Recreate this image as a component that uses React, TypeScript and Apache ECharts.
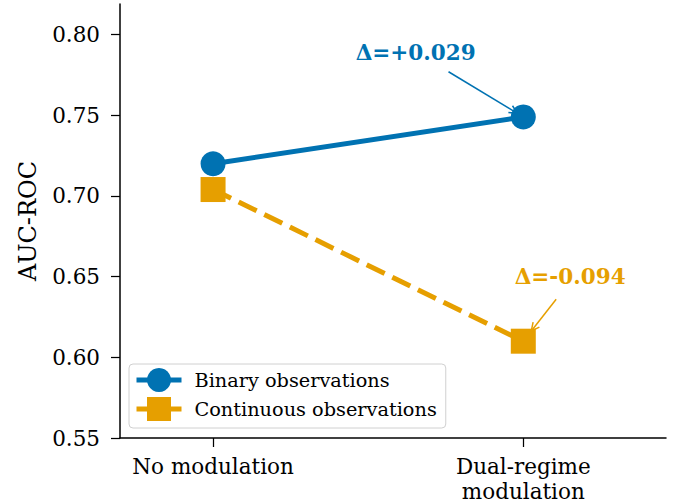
import React, { useEffect, useRef } from "react";
import * as echarts from "echarts";

const categories = ["No modulation", "Dual-regime\nmodulation"];
const categoryX = [0, 1];
const binaryAUC = [0.72, 0.749];
const continuousAUC = [0.704, 0.61];
const yTicks = [0.55, 0.6, 0.65, 0.7, 0.75, 0.8];
const seriesNames = ["Binary observations", "Continuous observations"];
const deltaLabels = ["Δ=+0.029", "Δ=-0.094"];
const deltaTextPos = [
  [0.653, 0.789],
  [1.151, 0.65],
];
const deltaArrowStart = [
  [0.759, 0.777],
  [1.106, 0.636],
];

const BLUE = "#0072B2";
const ORANGE = "#E69F00";
const FONT = "'DejaVu Serif', serif";

export default function App() {
  const ref = useRef<HTMLDivElement>(null);
  useEffect(() => {
    document.body.style.margin = "0";
    const chart = echarts.init(ref.current!, null, { renderer: "svg" });
    chart.setOption({
      animation: false,
      backgroundColor: "#ffffff",
      textStyle: { fontFamily: FONT },
      grid: { left: 120, right: 12, top: 4, bottom: 66, containLabel: false },
      xAxis: {
        type: "value",
        min: -0.3,
        max: 1.46,
        splitLine: { show: false },
        axisLine: { show: true, onZero: false, lineStyle: { color: "#000", width: 1.5 } },
        axisTick: { show: true, customValues: categoryX, length: 9, lineStyle: { color: "#000", width: 1.25 } },
        axisLabel: {
          customValues: categoryX,
          formatter: (v: number) => categories[categoryX.indexOf(Math.round(v))] ?? "",
          color: "#000",
          fontSize: 21.5,
          fontFamily: FONT,
          lineHeight: 25,
          margin: 16,
          align: "center",
        },
      },
      yAxis: {
        type: "value",
        min: 0.55,
        max: 0.819,
        name: "AUC-ROC",
        nameLocation: "middle",
        nameRotate: 90,
        nameGap: 80,
        nameTextStyle: { color: "#000", fontSize: 24, fontFamily: FONT },
        splitLine: { show: false },
        axisLine: { show: true, onZero: false, lineStyle: { color: "#000", width: 1.5 } },
        axisTick: { show: true, customValues: yTicks, length: 9, lineStyle: { color: "#000", width: 1.25 } },
        axisLabel: {
          customValues: yTicks,
          formatter: (v: number) => v.toFixed(2),
          color: "#000",
          fontSize: 21.5,
          fontFamily: FONT,
          margin: 20,
        },
      },
      legend: {
        left: 129,
        top: 364,
        orient: "vertical",
        itemWidth: 45,
        itemHeight: 30,
        itemGap: 5,
        padding: [4, 9, 7, 5],
        backgroundColor: "#fff",
        borderColor: "#d0d0d0",
        borderWidth: 1,
        borderRadius: 4,
        lineStyle: { width: 5 },
        textStyle: { color: "#000", fontSize: 19.3, fontFamily: FONT, padding: [0, 0, 0, 8] },
        data: seriesNames,
      },
      series: [
        {
          name: seriesNames[0],
          type: "line",
          data: categoryX.map((x, i) => [x, binaryAUC[i]]),
          symbol: "circle",
          symbolSize: 25,
          itemStyle: { color: BLUE },
          lineStyle: { color: BLUE, width: 5 },
          z: 3,
        },
        {
          name: seriesNames[1],
          type: "line",
          data: categoryX.map((x, i) => [x, continuousAUC[i]]),
          symbol: "rect",
          symbolSize: 25,
          itemStyle: { color: ORANGE },
          lineStyle: { color: ORANGE, width: 5, type: [20, 8.5], cap: "butt" },
          z: 2,
        },
      ],
    });

    const g: any[] = [];
    [binaryAUC, continuousAUC].forEach((vals, i) => {
      const color = i === 0 ? BLUE : ORANGE;
      const [tx, ty] = chart.convertToPixel({ gridIndex: 0 }, deltaTextPos[i]) as number[];
      g.push({
        type: "text",
        x: tx,
        y: ty,
        z: 10,
        style: {
          text: deltaLabels[i],
          fill: color,
          fontSize: 21.5,
          fontWeight: "bold",
          fontFamily: FONT,
          align: "center",
          verticalAlign: "middle",
        },
      });
      const [sx, sy] = chart.convertToPixel({ gridIndex: 0 }, deltaArrowStart[i]) as number[];
      const [px, py] = chart.convertToPixel({ gridIndex: 0 }, [categoryX[1], vals[1]]) as number[];
      const shrink = i === 0 ? 7 : 13;
      const dx = px - sx;
      const dy = py - sy;
      const len = Math.hypot(dx, dy);
      const ux = dx / len;
      const uy = dy / len;
      const ex = px - ux * shrink;
      const ey = py - uy * shrink;
      const hl = 8;
      const hw = 4;
      g.push({
        type: "line",
        z: 10,
        shape: { x1: sx, y1: sy, x2: ex, y2: ey },
        style: { stroke: color, lineWidth: 1.5 },
      });
      g.push({
        type: "polyline",
        z: 10,
        shape: {
          points: [
            [ex - ux * hl - uy * hw, ey - uy * hl + ux * hw],
            [ex, ey],
            [ex - ux * hl + uy * hw, ey - uy * hl - ux * hw],
          ],
        },
        style: { stroke: color, lineWidth: 1.5, fill: null },
      });
    });
    chart.setOption({ graphic: g });

    return () => chart.dispose();
  }, []);
  return <div ref={ref} style={{ width: 678, height: 504 }} />;
}
